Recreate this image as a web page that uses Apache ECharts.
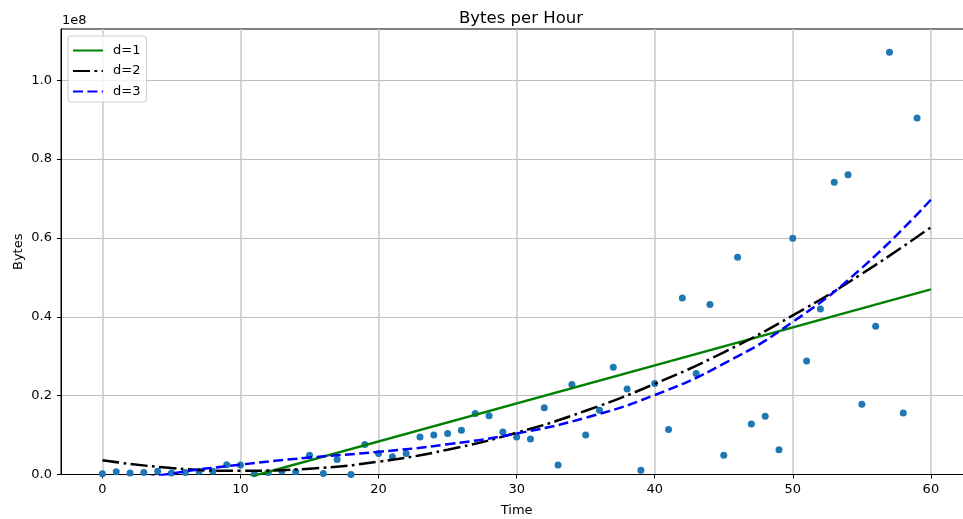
<!DOCTYPE html>
<html>
<head>
<meta charset="utf-8">
<script src="https://cdn.jsdelivr.net/npm/echarts@6/dist/echarts.min.js"></script>
<style>
  html, body { margin: 0; padding: 0; background: #ffffff; }
  #chart { width: 963px; height: 519px; }
</style>
</head>
<body>
<div id="chart"></div>
<script>
// Hourly byte counts (hour index 0..59), values in bytes
const hours = [
  0, 1, 2, 3, 4, 5, 6, 7, 8, 9,
  10, 11, 12, 13, 14, 15, 16, 17, 18, 19,
  20, 21, 22, 23, 24, 25, 26, 27, 28, 29,
  30, 31, 32, 33, 34, 35, 36, 37, 38, 39,
  40, 41, 42, 43, 44, 45, 46, 47, 48, 49,
  50, 51, 52, 53, 54, 55, 56, 57, 58, 59
];
const bytes = [
  0.002e8, 0.007e8, 0.004e8, 0.005e8, 0.008e8, 0.004e8, 0.005e8, 0.008e8, 0.008e8, 0.025e8,
  0.024e8, 0.002e8, 0.005e8, 0.009e8, 0.007e8, 0.049e8, 0.0025e8, 0.038e8, 0.000e8, 0.076e8,
  0.053e8, 0.045e8, 0.053e8, 0.095e8, 0.100e8, 0.104e8, 0.112e8, 0.155e8, 0.149e8, 0.108e8,
  0.095e8, 0.090e8, 0.169e8, 0.024e8, 0.228e8, 0.100e8, 0.163e8, 0.272e8, 0.217e8, 0.011e8,
  0.231e8, 0.114e8, 0.448e8, 0.256e8, 0.431e8, 0.049e8, 0.551e8, 0.128e8, 0.148e8, 0.063e8,
  0.599e8, 0.288e8, 0.420e8, 0.741e8, 0.760e8, 0.178e8, 0.376e8, 1.071e8, 0.156e8, 0.904e8
];

// Fitted polynomial curves, sampled along the time axis
const fitX1 = [0, 60];
const fitD1 = [-0.109e8, 0.4695e8];

const fitX = [0, 5, 10, 15, 20, 25, 30, 35, 40, 45, 50, 55, 60];
const fitD2 = [0.036e8, 0.0164e8, 0.0093e8, 0.0147e8, 0.0326e8, 0.063e8, 0.106e8,
               0.1616e8, 0.230e8, 0.310e8, 0.4035e8, 0.509e8, 0.627e8];
const fitD3 = [-0.030e8, 0.0026e8, 0.025e8, 0.043e8, 0.0574e8, 0.0767e8, 0.104e8,
               0.1441e8, 0.2016e8, 0.281e8, 0.387e8, 0.524e8, 0.697e8];

const seriesNames = ['d=1', 'd=2', 'd=3'];

// Axis ticks
const xTicks = [0, 10, 20, 30, 40, 50, 60];
const yTicks = [0, 0.2e8, 0.4e8, 0.6e8, 0.8e8, 1.0e8];

const FONT = 'DejaVu Sans';
const zip = (xs, ys) => xs.map((x, i) => [x, ys[i]]);

const chart = echarts.init(document.getElementById('chart'), null, { renderer: 'canvas' });

chart.setOption({
  animation: false,
  backgroundColor: '#ffffff',
  title: {
    text: 'Bytes per Hour',
    left: 516,
    top: 5,
    textAlign: 'center',
    textStyle: { fontFamily: FONT, fontSize: 16.5, fontWeight: 'normal', color: '#000' }
  },
  graphic: [{
    type: 'text',
    left: 62,
    top: 14,
    style: { text: '1e8', font: '13px "DejaVu Sans"', fill: '#000' }
  }],
  legend: {
    orient: 'vertical',
    left: 68,
    top: 36,
    data: seriesNames,
    itemWidth: 30,
    itemHeight: 14,
    itemGap: 7.5,
    padding: [8, 6, 4, 4],
    backgroundColor: 'rgba(255,255,255,0.8)',
    borderColor: '#cccccc',
    borderWidth: 1,
    borderRadius: 3,
    itemStyle: { opacity: 0 },
    textStyle: { fontFamily: FONT, fontSize: 13, color: '#000', padding: [0, 0, 0, 5] }
  },
  grid: {
    left: 61,
    top: 29,
    right: -9.3,
    bottom: 44.5,
    outerBoundsMode: 'none',
    containLabel: false,
    show: true,
    borderColor: '#000',
    borderWidth: 1,
    backgroundColor: 'transparent'
  },
  xAxis: {
    type: 'value',
    min: -3,
    max: 63,
    splitNumber: 7,
    name: 'Time',
    nameLocation: 'middle',
    nameGap: 30,
    nameMoveOverlap: false,
    nameTextStyle: { fontFamily: FONT, fontSize: 13, color: '#000' },
    axisLine: { show: true, onZero: false, lineStyle: { color: '#000', width: 1 } },
    axisTick: { show: true, inside: false, length: 4, customValues: xTicks,
                lineStyle: { color: '#000', width: 1 } },
    axisLabel: { customValues: xTicks, margin: 9, fontFamily: FONT, fontSize: 13, color: '#000' },
    splitLine: { show: true, lineStyle: { color: '#c8c8c8', width: 1.5 } }
  },
  yAxis: {
    type: 'value',
    min: 0,
    max: 1.13e8,
    interval: 0.2e8,
    name: 'Bytes',
    nameLocation: 'middle',
    nameGap: 36,
    nameMoveOverlap: false,
    nameRotate: 90,
    nameTextStyle: { fontFamily: FONT, fontSize: 13, color: '#000' },
    axisLine: { show: true, onZero: false, lineStyle: { color: '#000', width: 1 } },
    axisTick: { show: true, inside: false, length: 4, customValues: yTicks,
                lineStyle: { color: '#000', width: 1 } },
    axisLabel: {
      customValues: yTicks,
      margin: 9,
      fontFamily: FONT,
      fontSize: 13,
      color: '#000',
      formatter: v => (v / 1e8).toFixed(1)
    },
    splitLine: { show: true, lineStyle: { color: '#bdbdbd', width: 1 } }
  },
  series: [
    {
      name: 'points',
      type: 'scatter',
      data: zip(hours, bytes),
      symbolSize: 7,
      itemStyle: { color: '#1f77b4', opacity: 1 },
      z: 3
    },
    {
      name: seriesNames[0],
      type: 'line',
      data: zip(fitX1, fitD1),
      symbol: 'none',
      clip: true,
      lineStyle: { color: '#008000', width: 2.5, type: 'solid' },
      itemStyle: { color: '#008000' },
      z: 4
    },
    {
      name: seriesNames[1],
      type: 'line',
      data: zip(fitX, fitD2),
      symbol: 'none',
      smooth: 0.5,
      clip: true,
      lineStyle: { color: '#000000', width: 2.5, type: [17, 4.4, 2.8, 4.4], cap: 'butt' },
      itemStyle: { color: '#000000' },
      z: 4
    },
    {
      name: seriesNames[2],
      type: 'line',
      data: zip(fitX, fitD3),
      symbol: 'none',
      smooth: 0.5,
      clip: true,
      lineStyle: { color: '#0000ff', width: 2.5, type: [10, 4.4], cap: 'butt' },
      itemStyle: { color: '#0000ff' },
      z: 4
    }
  ]
});
</script>
</body>
</html>
